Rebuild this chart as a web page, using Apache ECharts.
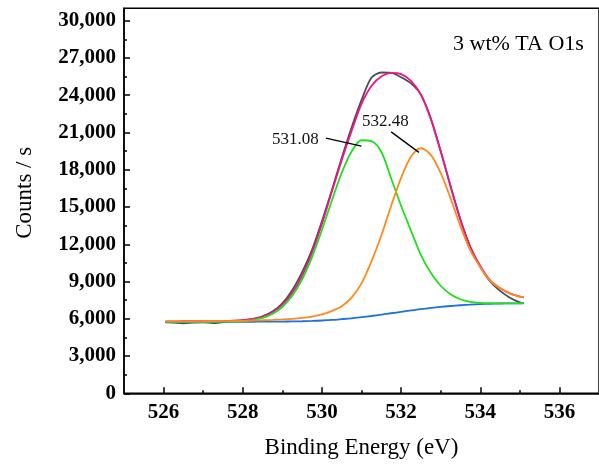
<!DOCTYPE html>
<html>
<head>
<meta charset="utf-8">
<title>O1s XPS</title>
<script src="https://cdn.jsdelivr.net/npm/echarts@6.0.0/dist/echarts.min.js"></script>
<style>
  html, body { margin: 0; padding: 0; background: #fff; }
  #chart { width: 599px; height: 466px; }
</style>
</head>
<body>
<div id="chart"></div>
<script>
// binding energy (eV)
var energy = [526.05, 526.25, 526.5, 526.75, 527, 527.25, 527.5, 527.75, 528, 528.25,
  528.5, 528.75, 529, 529.25, 529.5, 529.75, 530, 530.25, 530.5, 530.75,
  531, 531.25, 531.5, 531.75, 532, 532.25, 532.5, 532.75, 533, 533.25,
  533.5, 533.75, 534, 534.25, 534.5, 534.75, 535, 535.1];

// measured spectrum
var measured = [5720, 5700, 5640, 5700, 5720, 5650, 5730, 5800, 5870, 5980,
  6200, 6580, 7250, 8300, 9750, 11550, 13850, 16350, 18950, 21400,
  23600, 25400, 25830, 25800, 25450, 24950, 24050, 22150, 19500, 16700,
  14000, 11800, 10200, 9000, 8250, 7700, 7320, 7250];

// fitted envelope
var envelope = [5795, 5797, 5800, 5802, 5805, 5811, 5820, 5843, 5895, 5993,
  6185, 6530, 7125, 8065, 9445, 11325, 13640, 16225, 18775, 21130,
  23300, 24750, 25500, 25800, 25700, 25150, 24050, 22100, 19500, 16640,
  13935, 11730, 10255, 9090, 8460, 8050, 7790, 7730];

// peak at 531.08 eV
var peakA = [5745, 5747, 5750, 5752, 5755, 5758, 5765, 5780, 5820, 5900,
  6070, 6390, 6950, 7850, 9175, 10970, 13150, 15510, 17745, 19470,
  20375, 20300, 19450, 17300, 15100, 13100, 11150, 9700, 8660, 7970,
  7575, 7370, 7285, 7250, 7240, 7245, 7250, 7255];

// peak at 532.48 eV
var peakB = [5790, 5792, 5795, 5798, 5800, 5805, 5810, 5820, 5835, 5855,
  5880, 5910, 5950, 6000, 6070, 6180, 6350, 6620, 7000, 7700,
  8850, 10600, 12700, 15100, 17350, 19050, 19730, 19200, 17750, 15700,
  13450, 11500, 10150, 9050, 8450, 8050, 7790, 7730];

// background
var background = [5740, 5742, 5745, 5748, 5750, 5752, 5755, 5757, 5760, 5762,
  5765, 5770, 5775, 5785, 5800, 5825, 5860, 5905, 5970, 6040,
  6130, 6225, 6330, 6445, 6560, 6670, 6780, 6870, 6960, 7030,
  7090, 7140, 7180, 7210, 7230, 7245, 7250, 7255];

var xTicks = [526, 528, 530, 532, 534, 536];
var xMinorTicks = [527, 529, 531, 533, 535];
var yTicks = [0, 3000, 6000, 9000, 12000, 15000, 18000, 21000, 24000, 27000, 30000];
var yMinorTicks = [1500, 4500, 7500, 10500, 13500, 16500, 19500, 22500, 25500, 28500];

var peakNames = ['531.08', '532.48'];
var peakLabelPos = [[529.33, 20400], [531.6, 21870]];
var leaderLines = [
  [[530.1, 20550], [531.0, 19900]],
  [[531.75, 21050], [532.45, 19400]]
];

function pairs(ys) {
  return energy.map(function (x, i) { return [x, ys[i]]; });
}

var serifFont = "'Liberation Serif', 'Times New Roman', serif";

var myChart = echarts.init(document.getElementById('chart'));

var option = {
  animation: false,
  backgroundColor: '#fff',
  title: {
    text: '3 wt% TA O1s',
    left: 453,
    top: 33,
    padding: 0,
    textStyle: {
      fontFamily: serifFont,
      fontWeight: 'normal',
      fontSize: 22,
      color: '#000'
    }
  },
  grid: {
    left: 124,
    top: 8.3,
    width: 476.4,
    height: 385,
    show: true,
    borderColor: '#000',
    borderWidth: 1.5,
    backgroundColor: 'transparent'
  },
  xAxis: [
    {
      type: 'value',
      min: 525,
      max: 537,
      position: 'bottom',
      name: 'Binding Energy (eV)',
      nameLocation: 'middle',
      nameGap: 43,
      nameTextStyle: {
        fontFamily: serifFont,
        fontSize: 23,
        color: '#000'
      },
      axisLine: { show: true, onZero: false, lineStyle: { color: '#000', width: 1.5 } },
      axisTick: { show: true, inside: true, length: 6, customValues: xTicks, lineStyle: { color: '#000', width: 1.5 } },
      axisLabel: {
        customValues: xTicks,
        margin: 9,
        fontFamily: serifFont,
        fontWeight: 'bold',
        fontSize: 21,
        color: '#000'
      },
      splitLine: { show: false }
    },
    {
      type: 'value',
      min: 525,
      max: 537,
      position: 'bottom',
      axisLine: { show: false },
      axisTick: { show: true, inside: true, length: 3, customValues: xMinorTicks, lineStyle: { color: '#000', width: 1.5 } },
      axisLabel: { show: false },
      splitLine: { show: false }
    }
  ],
  yAxis: [
    {
      type: 'value',
      min: 0,
      max: 31000,
      position: 'left',
      name: 'Counts / s',
      nameLocation: 'middle',
      nameGap: 88,
      nameTextStyle: {
        fontFamily: serifFont,
        fontSize: 23,
        color: '#000',
        padding: [0, 0, 0, 16]
      },
      axisLine: { show: true, onZero: false, lineStyle: { color: '#000', width: 1.5 } },
      axisTick: { show: true, inside: true, length: 6, customValues: yTicks, lineStyle: { color: '#000', width: 1.5 } },
      axisLabel: {
        customValues: yTicks,
        margin: 8,
        fontFamily: serifFont,
        fontWeight: 'bold',
        fontSize: 21,
        color: '#000',
        formatter: function (v) {
          return String(v).replace(/\B(?=(\d{3})+(?!\d))/g, ',');
        }
      },
      splitLine: { show: false }
    },
    {
      type: 'value',
      min: 0,
      max: 31000,
      position: 'left',
      axisLine: { show: false },
      axisTick: { show: true, inside: true, length: 3, customValues: yMinorTicks, lineStyle: { color: '#000', width: 1.5 } },
      axisLabel: { show: false },
      splitLine: { show: false }
    }
  ],
  series: [
    {
      // measured
      type: 'line',
      data: pairs(measured),
      showSymbol: false,
      smooth: 0.3,
      lineStyle: { color: '#4d4d4d', width: 1.8 }
    },
    {
      // envelope
      type: 'line',
      data: pairs(envelope),
      showSymbol: false,
      smooth: 0.3,
      lineStyle: { color: '#f0148c', width: 1.8 }
    },
    {
      // background
      type: 'line',
      data: pairs(background),
      showSymbol: false,
      smooth: 0.3,
      lineStyle: { color: '#1f6fe5', width: 1.8 }
    },
    {
      // 531.08 peak
      type: 'line',
      data: pairs(peakA),
      showSymbol: false,
      smooth: 0.3,
      lineStyle: { color: '#1ee01e', width: 1.8 },
      markLine: {
        silent: true,
        symbol: 'none',
        label: { show: false },
        lineStyle: { color: '#000', width: 1.3, type: 'solid' },
        data: leaderLines.map(function (l) {
          return [{ coord: l[0] }, { coord: l[1] }];
        })
      },
      markPoint: {
        silent: true,
        symbol: 'circle',
        symbolSize: 1,
        itemStyle: { color: 'rgba(0,0,0,0)' },
        label: {
          show: true,
          position: 'inside',
          formatter: '{b}',
          fontFamily: serifFont,
          fontSize: 17,
          color: '#111'
        },
        data: peakNames.map(function (n, i) {
          return { name: n, coord: peakLabelPos[i] };
        })
      }
    },
    {
      // 532.48 peak
      type: 'line',
      data: pairs(peakB),
      showSymbol: false,
      smooth: 0.3,
      lineStyle: { color: '#ff8a1c', width: 1.8 }
    }
  ]
};

myChart.setOption(option);
window.addEventListener('resize', function () {
  myChart.resize();
});
</script>
</body>
</html>
